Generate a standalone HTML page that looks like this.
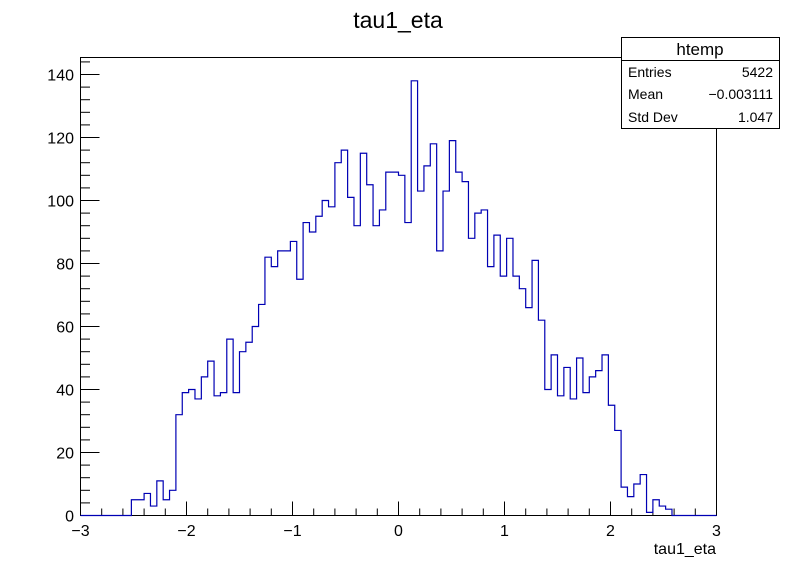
<!DOCTYPE html>
<html><head><meta charset="utf-8"><style>
html,body{margin:0;padding:0;background:#fff;}
svg{display:block;font-family:"Liberation Sans",Arial,sans-serif;}
</style></head><body>
<svg id="c" width="796" height="572" viewBox="0 0 796 572">
<rect x="0" y="0" width="796" height="572" fill="#fff"/>
<text x="398" y="28" font-size="23" text-anchor="middle">tau1_eta</text>
<rect x="80.5" y="57.5" width="636" height="458" fill="none" stroke="#000" stroke-width="1"/>
<g id="ticks"></g>
<path id="hist" fill="none" stroke="#0000b4" stroke-width="1.2"/>
<text x="716" y="554" font-size="16" text-anchor="end">tau1_eta</text>
<g>
<rect x="621.5" y="37.5" width="158" height="91" fill="#fff" stroke="#000"/>
<line x1="621.5" y1="60.5" x2="779.5" y2="60.5" stroke="#000"/>
<text x="700" y="55" font-size="17" text-anchor="middle">htemp</text>
<text x="628" y="77" font-size="14">Entries</text><text x="773" y="77" font-size="14" text-anchor="end">5422</text>
<text x="628" y="99" font-size="14">Mean</text><text x="773" y="99" font-size="14" text-anchor="end">−0.003111</text>
<text x="628" y="122" font-size="14">Std Dev</text><text x="773" y="122" font-size="14" text-anchor="end">1.047</text>
</g>
</svg>
<script>
const xMin=-3, xMax=3, nBins=100;
const binCounts=[0,0,0,0,0,0,0,0,5,5,7,3,11,5,8,32,39,40,37,44,49,38,39,56,39,52,55,60,67,82,79,84,84,87,75,93,90,95,100,98,112,116,101,92,115,105,92,97,109,109,108,93,138,103,111,118,84,103,119,109,106,88,96,97,79,89,76,88,76,72,66,81,62,40,51,38,47,37,50,39,44,46,51,35,27,9,6,10,13,1,5,3,2,0,0,0,0,0,0,0];
const xTickLabels=["−3","−2","−1","0","1","2","3"];
const yTickValues=[0,20,40,60,80,100,120,140];
const X0=80.5,X1=716.5,Y0=515.5,Y1=57.5,yMaxAxis=145.4;
function sx(v){return X0+(v-xMin)/(xMax-xMin)*(X1-X0);}
function sy(v){return Y0-v/yMaxAxis*(Y0-Y1);}
const NS="http://www.w3.org/2000/svg";
const svg=document.getElementById('c');
const tg=document.getElementById('ticks');
function line(x1,y1,x2,y2){const l=document.createElementNS(NS,'line');l.setAttribute('x1',x1);l.setAttribute('y1',y1);l.setAttribute('x2',x2);l.setAttribute('y2',y2);l.setAttribute('stroke','#000');tg.appendChild(l);return l;}
function text(x,y,s,anchor){const t=document.createElementNS(NS,'text');t.setAttribute('x',x);t.setAttribute('y',y);t.setAttribute('font-size','16');t.setAttribute('text-anchor',anchor);t.textContent=s;tg.appendChild(t);return t;}
// x ticks
for(let i=0;i<=30;i++){const v=xMin+i*0.2;const px=sx(v);const major=i%5===0;line(px,Y0,px,Y0-(major?14:7));}
xTickLabels.forEach((s,i)=>{const t=text(sx(xMin+i),536,s,'middle');

});
// y ticks
for(let v=0;v<=yMaxAxis;v+=4){const py=sy(v);const major=v%20===0;line(X0,py,X0+(major?19:9.5),py);}
yTickValues.forEach(v=>{const t=text(74,sy(v)+6,String(v),'end');

});
// histogram
const w=(xMax-xMin)/nBins;
let d='M'+sx(xMin)+','+sy(0);
binCounts.forEach((c,i)=>{const a=sx(xMin+i*w),b=sx(xMin+(i+1)*w);d+=' L'+a+','+sy(c)+' L'+b+','+sy(c);});
d+=' L'+sx(xMax)+','+sy(0);
document.getElementById('hist').setAttribute('d',d);
</script>
</body></html>
